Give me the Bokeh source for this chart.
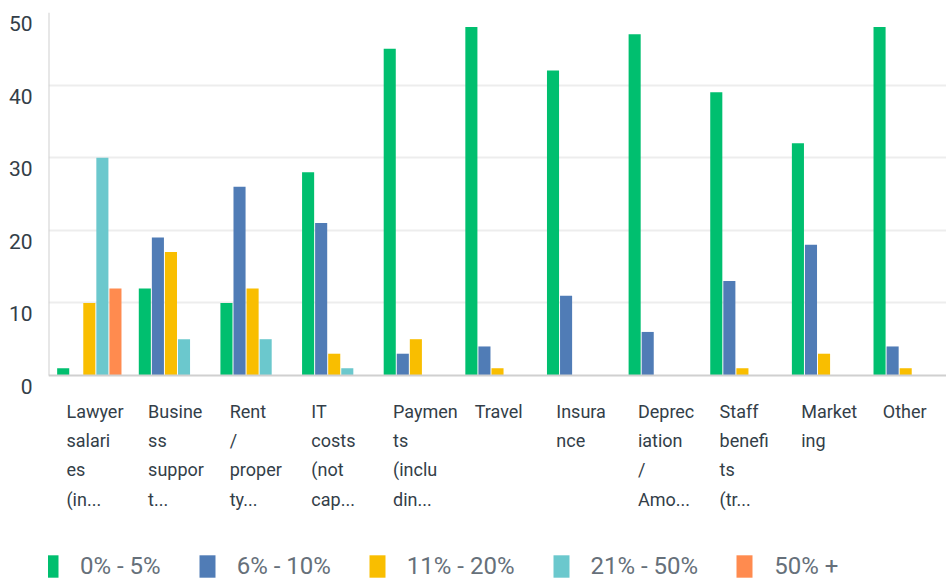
from bokeh.plotting import figure
from bokeh.models import FixedTicker, Legend, LegendItem, ColumnDataSource, Range1d, Span
from bokeh.core.properties import value
from bokeh.embed import file_html
from bokeh.resources import INLINE

categories = [
    "Lawyer\nsalari\nes\n(in...", "Busine\nss\nsuppor\nt...", "Rent\n/\nproper\nty...",
    "IT\ncosts\n(not\ncap...", "Paymen\nts\n(inclu\ndin...", "Travel", "Insura\nnce",
    "Deprec\niation\n/\nAmo...", "Staff\nbenefi\nts\n(tr...", "Market\ning", "Other",
]
series_names = ["0% - 5%", "6% - 10%", "11% - 20%", "21% - 50%", "50% +"]
s_0_5 = [1, 12, 10, 28, 45, 48, 42, 47, 39, 32, 48]
s_6_10 = [0, 19, 26, 21, 3, 4, 11, 6, 13, 18, 4]
s_11_20 = [10, 17, 12, 3, 5, 1, 0, 0, 1, 3, 1]
s_21_50 = [30, 5, 5, 1, 0, 0, 0, 0, 0, 0, 0]
s_50_plus = [12, 0, 0, 0, 0, 0, 0, 0, 0, 0, 0]
series_values = [s_0_5, s_6_10, s_11_20, s_21_50, s_50_plus]
colors = ["#00bf6f", "#507cb6", "#f9be00", "#6bc8cd", "#ff8b4f"]
y_ticks = [0, 10, 20, 30, 40, 50]

n = len(categories)
W, H = 946, 580
top_b, zero_px = 12, 375          # frame top and y=0 position in figure pixels
ymax = y_ticks[-1]
ymin = -ymax * (H - zero_px) / (zero_px - top_b)
px_per_unit = (zero_px - top_b) / ymax

p = figure(width=W, height=H, output_backend="svg", toolbar_location=None,
           x_range=Range1d(0, n), y_range=Range1d(ymin, ymax),
           min_border_left=48, min_border_right=0, min_border_top=top_b,
           min_border_bottom=0)
p.outline_line_color = None
p.xaxis.visible = False

bar_w = 0.16
offsets = [0.18, 0.34, 0.5, 0.66, 0.82]
items = []
for k, (name, vals, col) in enumerate(zip(series_names, series_values, colors)):
    src = ColumnDataSource(dict(x=[i + offsets[k] for i in range(n)], top=vals))
    r = p.vbar(x="x", top="top", bottom=0, width=bar_w - 0.012, source=src,
               fill_color=col, line_color=None)
    items.append(LegendItem(label=name, renderers=[r]))

# axis lines
p.add_layout(Span(location=y_ticks[0], dimension="width", line_color="#d0d0d0", line_width=2))
p.segment(x0=[0], y0=[y_ticks[0]], x1=[0], y1=[y_ticks[-1]], line_color="#d0d0d0", line_width=2)

# category labels, left aligned below the axis
lab_src = ColumnDataSource(dict(x=[i + 0.22 for i in range(n)], y=[0] * n, text=categories))
p.text(x="x", y="y", text="text", source=lab_src, text_align="left", text_baseline="top",
       y_offset=25, text_font=value("Roboto"), text_font_size="18px",
       text_color="#333e48", text_line_height=1.4)

# y axis: labels sit just below their gridlines
shift = 11 / px_per_unit
p.yaxis.ticker = FixedTicker(ticks=[v - shift for v in y_ticks])
p.yaxis.major_label_overrides = {v - shift: str(v) for v in y_ticks}
p.yaxis.major_label_text_font = "Roboto"
p.yaxis.major_label_text_font_size = "21px"
p.yaxis.major_label_text_color = "#333e48"
p.yaxis.major_label_standoff = 10
p.yaxis.major_tick_line_color = None
p.yaxis.minor_tick_line_color = None
p.yaxis.axis_line_color = None
p.ygrid.ticker = FixedTicker(ticks=y_ticks[1:])
p.ygrid.grid_line_color = "#ededed"
p.ygrid.grid_line_width = 2
p.xgrid.grid_line_color = None

legend = Legend(items=items, orientation="horizontal", location=(-8, 0),
                glyph_width=20, glyph_height=28, label_standoff=20, spacing=36,
                padding=0, margin=0, border_line_color=None,
                background_fill_alpha=0,
                label_text_font="Roboto", label_text_font_size="24px",
                label_text_color="#66707a")
p.add_layout(legend, "center")

open("out.html", "w").write(file_html(p, INLINE))
